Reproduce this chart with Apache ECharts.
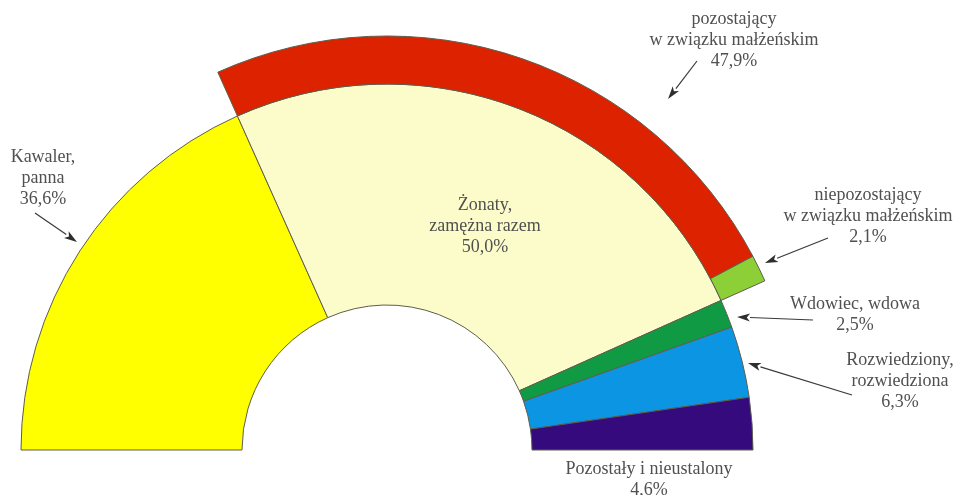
<!DOCTYPE html>
<html>
<head>
<meta charset="utf-8">
<title>Stan cywilny</title>
<script src="https://cdn.jsdelivr.net/npm/echarts/dist/echarts.min.js"></script>
<style>
  html, body { margin: 0; padding: 0; background: #fff; }
  #chart { width: 958px; height: 495px; }
</style>
</head>
<body>
<div id="chart"></div>
<script>
// inner ring: main categories
const innerNames = ['Kawaler,\npanna', 'Żonaty,\nzamężna razem', 'Wdowiec, wdowa', 'Rozwiedziony,\nrozwiedziona', 'Pozostały i nieustalony'];
const innerValues = [36.6, 50.0, 2.5, 6.3, 4.6];
const innerColors = ['#ffff00', '#fcfcca', '#119a44', '#0b95e3', '#340a7c'];

// outer ring: split of the married group
const outerNames = ['pozostający\nw związku małżeńskim', 'niepozostający\nw związku małżeńskim'];
const outerValues = [47.9, 2.1];
const outerColors = ['#dd2200', '#8ccf36'];

// label placement (centre of text block) and arrows [x1, y1, x2, y2]
const innerLabelPos = [[43, 178], [485, 226], [855, 315], [900, 381], [649, 480]];
const outerLabelPos = [[734, 40], [868, 216]];
const arrows = [
  [697, 61, 668, 99],
  [828, 238, 765, 263],
  [813, 320, 737, 317],
  [852, 395, 748, 363],
  [35, 213, 77, 242]
];

const total = innerValues.reduce((a, b) => a + b, 0);
const fmt = v => v.toFixed(1).replace('.', ',') + '%';
const border = { borderColor: '#5e5e4c', borderWidth: 1 };
const hidden = v => ({
  value: v, name: '', itemStyle: { color: 'rgba(0,0,0,0)', borderWidth: 0 },
  label: { show: false }, labelLine: { show: false }, emphasis: { disabled: true }, tooltip: { show: false }
});

const labelFont = {
  fontFamily: 'Liberation Serif', fontSize: 18, color: '#505050', lineHeight: 21,
  align: 'center'
};

const innerData = innerNames.map((n, i) => ({
  name: n, value: innerValues[i], itemStyle: Object.assign({ color: innerColors[i] }, border)
}));
innerData.push(hidden(total));

// outer ring sits over the married slice only
const lead = innerValues[0];
const tail = innerValues.slice(2).reduce((a, b) => a + b, 0);
const outerData = [hidden(lead)];
outerNames.forEach((n, i) => outerData.push({
  name: n, value: outerValues[i], itemStyle: Object.assign({ color: outerColors[i] }, border)
}));
outerData.push(hidden(tail));
outerData.push(hidden(total));

function arrow(a) {
  const [x1, y1, x2, y2] = a;
  const ang = Math.atan2(y2 - y1, x2 - x1);
  const L = 13, W = 4;
  const bx = x2 - L * Math.cos(ang), by = y2 - L * Math.sin(ang);
  const px = -Math.sin(ang) * W, py = Math.cos(ang) * W;
  return [
    { type: 'line', silent: true, shape: { x1: x1, y1: y1, x2: bx, y2: by }, style: { stroke: '#3a3a3a', lineWidth: 1.2 } },
    { type: 'polygon', silent: true, shape: { points: [[x2, y2], [bx + px, by + py], [bx + L * 0.25 * Math.cos(ang), by + L * 0.25 * Math.sin(ang)], [bx - px, by - py]] }, style: { fill: '#2e2e2e' } }
  ];
}

const chart = echarts.init(document.getElementById('chart'));
chart.setOption({
  animation: false,
  backgroundColor: '#ffffff',
  graphic: [].concat(...arrows.map(arrow)),
  series: [
    {
      name: 'stan',
      type: 'pie',
      center: [387, 450],
      radius: [145, 366],
      startAngle: 180,
      clockwise: true,
      avoidLabelOverlap: false,
      label: Object.assign({ show: true, formatter: p => p.name + '\n' + fmt(p.value) }, labelFont),
      labelLine: { show: false },
      labelLayout: p => {
        const pos = innerLabelPos[p.dataIndex];
        if (!pos) return {};
        return { x: pos[0], y: pos[1], align: 'center', verticalAlign: 'middle' };
      },
      data: innerData
    },
    {
      name: 'zamezni',
      type: 'pie',
      center: [387, 450],
      radius: [366, 414],
      startAngle: 180,
      clockwise: true,
      avoidLabelOverlap: false,
      label: Object.assign({ show: true, formatter: p => p.name + '\n' + fmt(p.value) }, labelFont),
      labelLine: { show: false },
      labelLayout: p => {
        const pos = outerLabelPos[p.dataIndex - 1];
        if (!pos || p.dataIndex < 1) return {};
        return { x: pos[0], y: pos[1], align: 'center', verticalAlign: 'middle' };
      },
      data: outerData
    }
  ]
});
</script>
</body>
</html>
